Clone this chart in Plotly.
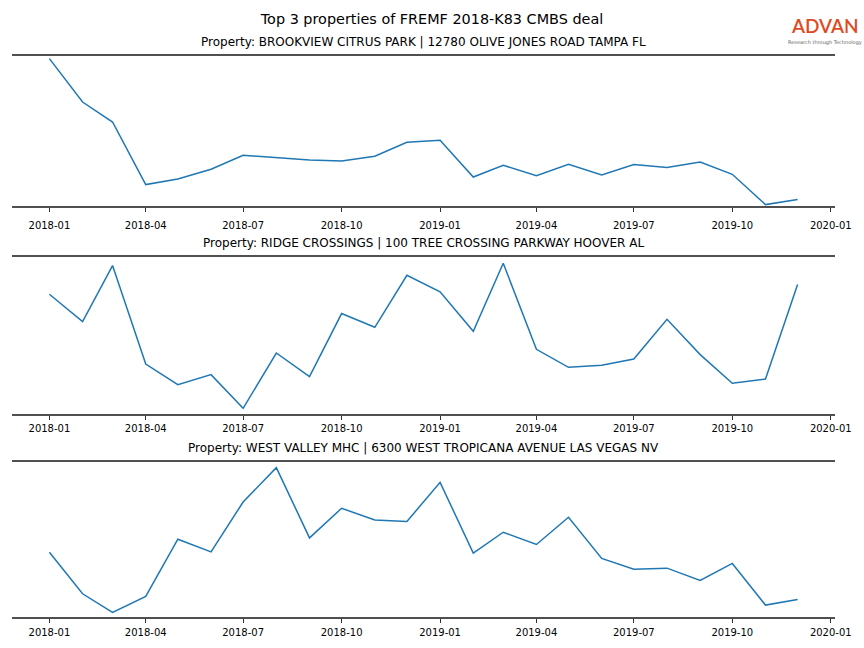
import plotly.graph_objects as go
import pandas as pd

# ---- data ----
months = pd.date_range("2018-01-01", "2019-12-01", freq="MS")
suptitle = "Top 3 properties of FREMF 2018-K83 CMBS deal"
titles = [
    "Property: BROOKVIEW CITRUS PARK | 12780 OLIVE JONES ROAD TAMPA FL",
    "Property: RIDGE CROSSINGS | 100 TREE CROSSING PARKWAY HOOVER AL",
    "Property: WEST VALLEY MHC | 6300 WEST TROPICANA AVENUE LAS VEGAS NV",
]
brookview = [147.4, 104.0, 84.0, 21.4, 27.0, 36.7, 50.7, 48.4, 46.0, 45.0, 49.7, 63.7,
             65.7, 29.0, 40.7, 30.4, 41.7, 31.0, 41.4, 38.4, 44.0, 31.7, 1.4, 6.4]
ridge = [119.7, 92.4, 148.4, 50.0, 29.4, 39.4, 5.7, 61.0, 37.4, 100.4, 86.7, 138.7,
         122.2, 82.7, 150.7, 64.7, 46.7, 48.7, 55.0, 94.7, 59.4, 30.7, 35.0, 129.4]
westvalley = [65.0, 23.3, 4.7, 20.7, 78.0, 65.3, 115.3, 149.7, 79.3, 109.0, 97.3, 95.7,
              135.0, 64.0, 85.0, 72.7, 100.0, 58.7, 48.0, 49.0, 36.7, 53.7, 12.0, 17.7]
series = [brookview, ridge, westvalley]
tick_vals = pd.date_range("2018-01-01", "2020-01-01", freq="3MS")
tick_text = [d.strftime("%Y-%m") for d in tick_vals]

# ---- style / layout ----
W, H = 864, 648
ML, MR, MT, MB = 12, 29, 56, 31
panel_px = [(56, 206), (257, 414), (462, 617)]  # top, bottom pixel of each panel
margins = [(0.0096, 0.018), (0.039, 0.043), (0.032, 0.039)]  # (bottom, top) y-margin fractions
standoffs = [5, 0, 1]
plot_h = H - MT - MB
LINE = "#1f77b4"
SPINE = "#505050"
FONT = "DejaVu Sans"

fig = go.Figure()
span = months[-1] - months[0]
x_range = [months[0] - span * 0.05, months[-1] + span * 0.05]

annotations = []
for i, (vals, ttl) in enumerate(zip(series, titles)):
    n = i + 1
    xa = "x" if n == 1 else f"x{n}"
    ya = "y" if n == 1 else f"y{n}"
    fig.add_trace(go.Scatter(x=months, y=vals, mode="lines",
                             line=dict(color=LINE, width=1.5),
                             xaxis=xa, yaxis=ya, showlegend=False, hoverinfo="x+y"))
    top, bot = panel_px[i]
    d0 = (H - MB - bot) / plot_h
    d1 = (H - MB - top) / plot_h
    lo, hi = min(vals), max(vals)
    sp = hi - lo
    mb, mt = margins[i]
    xkey = "xaxis" if n == 1 else f"xaxis{n}"
    ykey = "yaxis" if n == 1 else f"yaxis{n}"
    fig.update_layout(**{
        xkey: dict(domain=[0, 1], anchor=ya, range=x_range, type="date",
                   tickvals=list(tick_vals), ticktext=tick_text,
                   showline=True, mirror=True, linecolor=SPINE, linewidth=2,
                   ticks="outside", ticklen=4, tickwidth=1, tickcolor="#333333",
                   ticklabelstandoff=standoffs[i], automargin=False,
                   showgrid=False, zeroline=False,
                   tickfont=dict(family=FONT, size=10, color="black")),
        ykey: dict(domain=[d0, d1], anchor=xa, range=[lo - sp * mb, hi + sp * mt],
                   showticklabels=False, showgrid=False, zeroline=False,
                   showline=False, ticks="", automargin=False),
    })
    annotations.append(dict(text=ttl, xref="paper", yref="paper", x=0.5, y=d1,
                            xanchor="center", yanchor="bottom", yshift=5, showarrow=False,
                            font=dict(family=FONT, size=12, color="black")))

# logo
logo_x = (825 - ML) / (W - ML - MR)
logo_y = (H - MB - 38.5) / plot_h
annotations.append(dict(text="ADVAN", xref="paper", yref="paper",
                        x=logo_x, y=logo_y, xanchor="center", yanchor="bottom",
                        showarrow=False, borderpad=0,
                        font=dict(family="Lato", size=19, color="#E04A22", weight=600)))
annotations.append(dict(text="Research through Technology", xref="paper", yref="paper",
                        x=logo_x, y=logo_y, xanchor="center", yanchor="top",
                        showarrow=False, borderpad=0,
                        font=dict(family=FONT, size=5, color="#666666")))

fig.update_layout(
    width=W, height=H, margin=dict(l=ML, r=MR, t=MT, b=MB, autoexpand=False),
    paper_bgcolor="white", plot_bgcolor="white",
    title=dict(text=suptitle, x=0.5, xref="container", y=1 - 19 / H, yref="container",
               xanchor="center", yanchor="middle",
               font=dict(family=FONT, size=14.4, color="black")),
    annotations=annotations,
)

fig.write_html("out.html", config={"displayModeBar": False},
               post_script="document.body.style.margin='0';document.body.style.overflow='hidden';")
